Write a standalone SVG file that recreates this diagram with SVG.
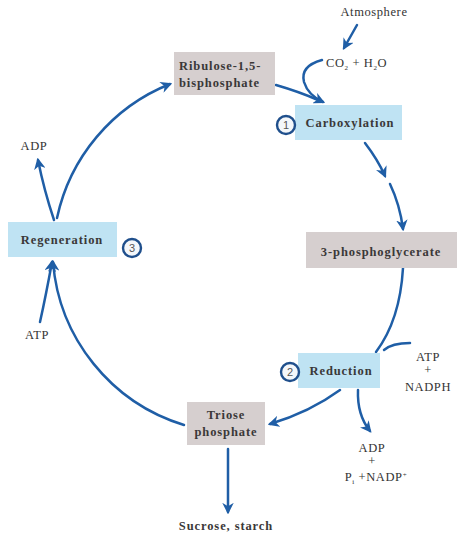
<svg xmlns="http://www.w3.org/2000/svg" width="474" height="534" viewBox="0 0 474 534">
<defs>
<marker id="ah" viewBox="0 0 10 10" refX="8" refY="5" markerWidth="4.6" markerHeight="4.6" orient="auto" markerUnits="strokeWidth">
<path d="M0,0 L10,5 L0,10 L3,5 z" fill="#1f5ea6"/>
</marker>
<style>
.t{font-family:"Liberation Serif","DejaVu Serif",serif;font-size:12.5px;fill:#3a3838;font-weight:bold;letter-spacing:0.9px}
.s{font-family:"Liberation Serif","DejaVu Serif",serif;font-size:12.5px;fill:#333;letter-spacing:0.6px}
.gray{fill:#d6cfcf}
.blue{fill:#bfe3f3}
.c{fill:none;stroke:#1f5ea6;stroke-width:2.5;stroke-linecap:round}
.a{marker-end:url(#ah)}
.num{fill:#f4f7fa;stroke:#1f4f8c;stroke-width:2.4}
.n{font-family:"Liberation Sans","DejaVu Sans",sans-serif;font-size:11px;fill:#555}
</style>
</defs>
<rect width="474" height="534" fill="#ffffff"/>
<g id="connectors">
<path class="c a" d="M57,218 A186,186 0 0 1 170,84"/>
<path class="c a" d="M54,220 Q44,190 38,160"/>
<path class="c a" d="M40,322 Q46,295 52,262"/>
<path class="c a" d="M184,425 A186,186 0 0 1 53,262"/>
<path class="c a" d="M357,25 L344,48"/>
<path class="c a" d="M322,60 Q300,66 304,82 Q308,95 323,102"/>
<path class="c" d="M276,85 Q300,92 318,100"/>
<path class="c a" d="M365,143 Q378,160 385,176"/>
<path class="c a" d="M390,184 Q400,205 403,229"/>
<path class="c" d="M403,268 Q400,320 376,352"/>
<path class="c" d="M410,343 Q392,343 384,350"/>
<path class="c a" d="M340,390 Q310,412 270,424"/>
<path class="c a" d="M358,390 Q357,415 370,431"/>
<path class="c a" d="M228,449 L228,512"/>
</g>
<g id="ribulose">
<rect class="gray" x="174" y="52" width="101" height="43"/>
<text class="t" x="179" y="70" letter-spacing="0.5">Ribulose-1,5-</text>
<text class="t" x="179" y="87" letter-spacing="0.5">bisphosphate</text>
</g>
<g id="atmosphere">
<text class="s" x="374" y="16" text-anchor="middle">Atmosphere</text>
</g>
<g id="co2">
<text class="s" x="326" y="67">CO<tspan font-size="7" dy="3">2</tspan><tspan dy="-3"> + H</tspan><tspan font-size="7" dy="3">2</tspan><tspan dy="-3">O</tspan></text>
</g>
<g id="carboxylation">
<rect class="blue" x="295" y="105" width="107" height="35"/>
<circle class="num" cx="286" cy="125" r="9"/>
<text class="n" x="286" y="129" text-anchor="middle">1</text>
<text class="t" x="350" y="127" text-anchor="middle">Carboxylation</text>
</g>
<g id="pga">
<rect class="gray" x="306" y="232" width="151" height="36"/>
<text class="t" x="381" y="256" text-anchor="middle">3-phosphoglycerate</text>
</g>
<g id="reduction">
<rect class="blue" x="298" y="353" width="82" height="35"/>
<circle class="num" cx="290" cy="372" r="9"/>
<text class="n" x="290" y="376" text-anchor="middle">2</text>
<text class="t" x="341" y="375" text-anchor="middle">Reduction</text>
</g>
<g id="atp-nadph">
<text class="s" x="428" y="361" text-anchor="middle">ATP</text>
<text class="s" x="428" y="374" text-anchor="middle">+</text>
<text class="s" x="428" y="391" text-anchor="middle">NADPH</text>
</g>
<g id="adp-nadp">
<text class="s" x="372" y="452" text-anchor="middle">ADP</text>
<text class="s" x="372" y="465" text-anchor="middle">+</text>
<text class="s" x="376" y="481" text-anchor="middle">P<tspan font-size="7" dy="3">i</tspan><tspan dy="-3"> +NADP</tspan><tspan font-size="7" dy="-4">+</tspan></text>
</g>
<g id="triose">
<rect class="gray" x="187" y="402" width="78" height="43"/>
<text class="t" x="226" y="419" text-anchor="middle" letter-spacing="0.5">Triose</text>
<text class="t" x="226" y="436" text-anchor="middle" letter-spacing="0.5">phosphate</text>
</g>
<g id="sucrose">
<text class="t" x="226" y="530" text-anchor="middle">Sucrose, starch</text>
</g>
<g id="regeneration">
<rect class="blue" x="8" y="222" width="109" height="35"/>
<text class="t" x="62" y="244" text-anchor="middle">Regeneration</text>
<circle class="num" cx="132" cy="248" r="9"/>
<text class="n" x="132" y="252" text-anchor="middle">3</text>
</g>
<g id="adp">
<text class="s" x="34" y="150" text-anchor="middle">ADP</text>
</g>
<g id="atp">
<text class="s" x="37" y="339" text-anchor="middle">ATP</text>
</g>
</svg>
